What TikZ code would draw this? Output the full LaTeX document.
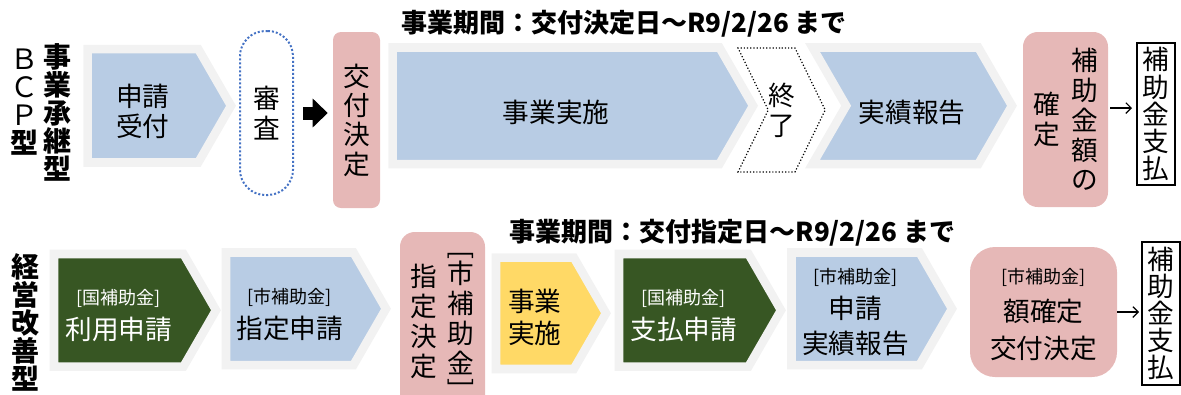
\documentclass[tikz,border=0pt]{standalone}
\usepackage{fontspec}
\setmainfont{Noto Sans CJK JP}
\usepackage{graphicx}
\usetikzlibrary{shapes.symbols,arrows.meta}

\definecolor{bandgray}{RGB}{242,242,242}
\definecolor{stepblue}{RGB}{184,204,228}
\definecolor{steppink}{RGB}{230,184,183}
\definecolor{stepgreen}{RGB}{55,86,35}
\definecolor{stepyellow}{RGB}{255,217,102}
\definecolor{dotblue}{RGB}{68,114,196}

% vertical text, one character per row
\newcommand\tate[1]{$\vcenter{\halign{\hfil##\hfil\cr#1\crcr}}$}
\newcommand\kakko[1]{{\fontsize{13.5}{16}\selectfont[#1]}}
\newcommand\lbr{\rotatebox[origin=c]{-90}{[}}
\newcommand\rbr{\rotatebox[origin=c]{-90}{]}}
% strut that pushes the text of a step down a little
\newcommand\lift[1]{\rule{0pt}{#1}}

\begin{document}
\begin{tikzpicture}[x=0.75pt, y=-0.75pt,
    txt/.style={font=\fontsize{20}{22.5}\selectfont, inner sep=0pt},
    chevron/.style={txt, signal, signal to=east, signal pointer angle=120,
        draw=bandgray, line width=6.4pt, align=center},
    notched/.style={chevron, signal from=west},
    pinkbox/.style={txt, fill=steppink, rounded corners=#1, align=center},
    paybox/.style={txt, draw, line width=1.5pt, minimum width=28.5pt},
    sidelabel/.style={font=\bfseries\fontsize{21}{21}\selectfont, inner sep=0pt},
    period/.style={font=\bfseries\fontsize{19.5}{22}\selectfont, inner sep=0pt},
    thinarrow/.style={line width=0.9pt, -{Straight Barb[length=4pt,width=8pt]}}]
    \useasboundingbox (0,0) rectangle (1181,394);

    % Row labels
    \node[sidelabel] (bcp) at (24.5,102) {\tate{\mdseries Ｂ\cr \mdseries Ｃ\cr \mdseries Ｐ\cr 型}};
    \node[sidelabel] (shoukei) at (57.5,112.5) {\tate{事\cr 業\cr 承\cr 継\cr 型}};
    \node[sidelabel] (keiei) at (26,322) {\tate{経\cr 営\cr 改\cr 善\cr 型}};

    % Periods
    \node[period] (period1) at (624,24) {事業期間：交付決定日～R9/2/26 まで};
    \node[period] (period2) at (732.5,233) {事業期間：交付指定日～R9/2/26 まで};

    % Top row
    \node[chevron, fill=stepblue, minimum width=107.6pt, minimum height=85.1pt]
        (uketsuke) at (142.9,105.75) {\lift{25pt}申請\\受付};
    \node[txt, draw=dotblue, line width=1.5pt, dash pattern=on 1.5pt off 1.5pt,
        rounded corners=19pt, minimum width=39.75pt, minimum height=123pt]
        (shinsa) at (266.5,113) {\tate{審\cr 査}};
    \node[pinkbox=6pt, minimum width=35.25pt, minimum height=132pt,
        font=\fontsize{20}{22}\selectfont]
        (koufu) at (356.5,120) {\tate{交\cr 付\cr 決\cr 定}};
    \node[chevron, fill=stepblue, minimum width=270.4pt, minimum height=87.4pt]
        (jigyou) at (556,105.75) {\lift{26.5pt}事業実施};
    \node[notched, signal pointer angle=128, draw=black, line width=0.9pt,
        dash pattern=on 0.9pt off 1.5pt, minimum width=65.4pt, minimum height=93pt]
        (shuryo) at (781.6,110) {終\\了};
    \node[notched, fill=stepblue, minimum width=149.6pt, minimum height=87.4pt]
        (jisseki) at (912.25,105.75) {\lift{26.5pt}実績報告};
    \node[pinkbox=11pt, minimum width=63.75pt, minimum height=131.25pt,
        font=\fontsize{20}{22.3}\selectfont]
        (kakutei) at (1065.5,119.5)
        {\tate{確\cr 定}\hspace{8.5pt}\tate{補\cr 助\cr 金\cr 額\cr の}};
    \node[paybox, minimum height=106.5pt, font=\fontsize{20}{20.3}\selectfont]
        (payA) at (1156,114) {\tate{補\cr 助\cr 金\cr 支\cr 払}};

    % Bottom row
    \node[chevron, fill=stepgreen, text=white, minimum width=121.5pt, minimum height=84.4pt,
        font=\fontsize{20}{26}\selectfont]
        (riyou) at (118.75,310.25) {\lift{19pt}\kakko{国補助金}\\利用申請};
    \node[chevron, fill=stepblue, minimum width=120pt, minimum height=84.4pt,
        font=\fontsize{20}{26}\selectfont]
        (shinseiB) at (289.75,308.75) {\lift{20.5pt}\kakko{市補助金}\\指定申請};
    \node[pinkbox=11pt, minimum width=63.75pt, minimum height=133.5pt]
        (shitei) at (442.5,321)
        {\tate{指\cr 定\cr 決\cr 定}\hspace{7.7pt}%
         \tate{\lbr\cr\noalign{\vskip-7pt}市\cr 補\cr 助\cr 金\cr\noalign{\vskip-9pt}\rbr}};
    \node[chevron, fill=stepyellow, minimum width=82.5pt, minimum height=83.6pt,
        font=\fontsize{20}{24}\selectfont]
        (jigyouB) at (534.9,313.25) {\lift{23pt}事業\\実施};
    \node[chevron, fill=stepgreen, text=white, minimum width=121.5pt, minimum height=84.4pt,
        font=\fontsize{20}{26}\selectfont]
        (shiharai) at (683.75,310.25) {\lift{19pt}\kakko{国補助金}\\支払申請};
    \node[chevron, fill=stepblue, minimum width=120.4pt, minimum height=84.4pt,
        font=\fontsize{20}{26}\selectfont]
        (houkoku) at (855.5,308.75) {\lift{16.5pt}\kakko{市補助金}\\申請\\実績報告};
    \node[pinkbox=18.75pt, minimum width=110.25pt, minimum height=97.5pt,
        font=\fontsize{20}{28}\selectfont]
        (gaku) at (1043.5,312) {\lift{15.5pt}\kakko{市補助金}\\額確定\\交付決定};
    \node[paybox, minimum height=107.25pt, font=\fontsize{20}{20.3}\selectfont]
        (payB) at (1161,313.5) {\tate{補\cr 助\cr 金\cr 支\cr 払}};

    % Arrows
    \draw[line width=9.75pt, -{Triangle[length=11.25pt, width=21pt]},
        shorten <=6.75pt, shorten >=3.75pt] (shinsa.east) -- (shinsa.east -| koufu.west);
    \coordinate (arrA) at ([yshift=8.6pt]kakutei.east);
    \draw[thinarrow, shorten <=1.5pt, shorten >=3pt] (arrA) -- (arrA -| payA.west);
    \draw[thinarrow, shorten >=1.5pt] (gaku.east) -- (gaku.east -| payB.west);
\end{tikzpicture}
\end{document}
